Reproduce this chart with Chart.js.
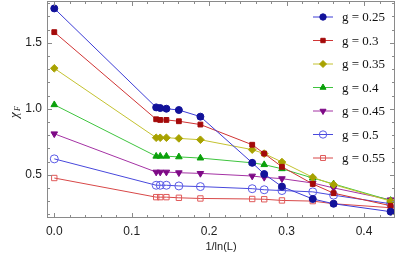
<!DOCTYPE html>
<html>
<head>
<meta charset="utf-8">
<script src="https://cdn.jsdelivr.net/npm/chart.js@4/dist/chart.umd.min.js"></script>
<style>
  body { margin: 0; background: #fff; }
  #wrap { width: 399px; height: 259px; }
</style>
</head>
<body>
<div id="wrap"><canvas id="chiChart"></canvas></div>
<script>
// x = 1/ln(L)
const xVals = [0, 0.1316, 0.1368, 0.1448, 0.1609, 0.1887, 0.2556, 0.2711, 0.2940, 0.3338, 0.3607, 0.4343];

const g025 = [1.76, 1.01, 1.005, 1.0, 0.99, 0.94, 0.59, 0.505, 0.41, 0.316, 0.28, 0.22];
const g030 = [1.58, 0.92, 0.915, 0.915, 0.905, 0.88, 0.727, 0.66, 0.56, 0.43, 0.36, 0.265];
const g035 = [1.306, 0.78, 0.78, 0.78, 0.775, 0.765, 0.69, 0.66, 0.596, 0.48, 0.425, 0.30];
const g040 = [1.03, 0.64, 0.64, 0.64, 0.635, 0.626, 0.59, 0.576, 0.545, 0.475, 0.43, 0.305];
const g045 = [0.81, 0.52, 0.52, 0.52, 0.515, 0.51, 0.49, 0.48, 0.47, 0.437, 0.40, 0.31];
const g050 = [0.62, 0.42, 0.42, 0.42, 0.415, 0.41, 0.394, 0.386, 0.38, 0.37, 0.345, 0.28];
const g055 = [0.475, 0.33, 0.33, 0.33, 0.325, 0.32, 0.316, 0.314, 0.305, 0.30, 0.28, 0.25];

const seriesLabels = ["g = 0.25", "g = 0.3", "g = 0.35", "g = 0.4", "g = 0.45", "g = 0.5", "g = 0.55"];
const xTicks = [0, 0.1, 0.2, 0.3, 0.4];
const yTicks = [0.5, 1.0, 1.5];

const toPoints = (ys) => ys.map((y, i) => ({ x: xVals[i], y: y }));

const makeSet = (label, ys, line, mark, style, opts) => Object.assign({
  label: label,
  data: toPoints(ys),
  borderColor: line,
  borderWidth: 1,
  pointStyle: style,
  pointBackgroundColor: mark,
  pointBorderColor: mark,
  pointBorderWidth: 1,
  pointRadius: 3.5,
  tension: 0,
  fill: false,
}, opts || {});

const datasets = [
  makeSet(seriesLabels[0], g025, "#3c3cd6", "#12129a", "circle", { pointRadius: 3.5 }),
  makeSet(seriesLabels[1], g030, "#d03434", "#a40a0a", "rect", { pointRadius: 3.4 }),
  makeSet(seriesLabels[2], g035, "#c4c230", "#a8a200", "rectRot", { pointRadius: 3.8 }),
  makeSet(seriesLabels[3], g040, "#3ec43e", "#0aa00a", "triangle", { pointRadius: 3.8 }),
  makeSet(seriesLabels[4], g045, "#a432a4", "#7e0a86", "triangle", { pointRadius: 3.8, pointRotation: 180 }),
  makeSet(seriesLabels[5], g050, "#4848dc", "#5a5ae6", "circle", { pointRadius: 4, pointBackgroundColor: "rgba(255,255,255,0)" }),
  makeSet(seriesLabels[6], g055, "#d84848", "#e05a5a", "rect", { pointRadius: 3.8, pointBackgroundColor: "rgba(255,255,255,0)" }),
];

// frame, inward ticks, legend and y title drawn with the scales
const framePlugin = {
  id: "frame",
  afterDraw(chart) {
    const ctx = chart.ctx;
    const a = chart.chartArea;
    const xs = chart.scales.x;
    const ys = chart.scales.y;
    ctx.save();
    ctx.strokeStyle = "#8a8a8a";
    ctx.lineWidth = 1;
    ctx.strokeRect(a.left + 0.5, a.top + 0.5, a.right - a.left - 1, a.bottom - a.top - 1);

    ctx.beginPath();
    for (let i = 0; i <= 22; i++) {
      const v = i * 0.02;
      const px = Math.round(xs.getPixelForValue(v)) + 0.5;
      if (px < a.left || px > a.right) continue;
      const len = i % 5 === 0 ? 5 : 3;
      ctx.moveTo(px, a.bottom); ctx.lineTo(px, a.bottom - len);
      ctx.moveTo(px, a.top); ctx.lineTo(px, a.top + len);
    }
    for (let i = 2; i <= 18; i++) {
      const v = i * 0.1;
      const py = Math.round(ys.getPixelForValue(v)) + 0.5;
      if (py < a.top || py > a.bottom) continue;
      const len = i % 5 === 0 ? 5 : 3;
      ctx.moveTo(a.left, py); ctx.lineTo(a.left + len, py);
      ctx.moveTo(a.right, py); ctx.lineTo(a.right - len, py);
    }
    ctx.stroke();

    // legend
    const lx = 313, tx = 342;
    chart.data.datasets.forEach((ds, i) => {
      const ly = 17 + i * 23.5;
      ctx.strokeStyle = ds.borderColor;
      ctx.lineWidth = 1;
      ctx.beginPath();
      ctx.moveTo(lx, ly); ctx.lineTo(lx + 20, ly);
      ctx.stroke();
      ctx.fillStyle = ds.pointBackgroundColor;
      ctx.strokeStyle = ds.pointBorderColor;
      Chart.helpers.drawPoint(ctx, {
        pointStyle: ds.pointStyle,
        rotation: ds.pointRotation || 0,
        radius: ds.pointRadius - 0.3,
        borderWidth: 1,
      }, lx + 10, ly);
      ctx.fillStyle = "#111";
      ctx.font = "13px 'Liberation Serif', 'DejaVu Serif', serif";
      ctx.textBaseline = "middle";
      ctx.textAlign = "left";
      ctx.fillText(ds.label, tx, ly + 1);
    });

    // y title: chi_F
    ctx.translate(14, 111);
    ctx.rotate(-Math.PI / 2);
    ctx.fillStyle = "#222";
    ctx.textBaseline = "alphabetic";
    ctx.textAlign = "left";
    ctx.font = "italic 13px 'Liberation Serif', serif";
    ctx.fillText("\u03C7", -7, 4);
    ctx.font = "italic 8px 'Liberation Serif', serif";
    ctx.fillText("F", 0, 6);
    ctx.restore();
  },
};

new Chart(document.getElementById("chiChart"), {
  type: "line",
  data: { datasets: datasets },
  options: {
    responsive: true,
    maintainAspectRatio: false,
    animation: false,
    layout: { autoPadding: false, padding: { top: 1, right: 4, left: 0, bottom: 0 } },
    plugins: { legend: { display: false }, tooltip: { enabled: false } },
    scales: {
      x: {
        type: "linear",
        min: -0.0094,
        max: 0.44,
        afterBuildTicks: (s) => { s.ticks = xTicks.map((v) => ({ value: v })); },
        afterFit: (s) => { s.height = 41; s.paddingLeft = 0; s.paddingRight = 0; },
        grid: { display: false, drawTicks: false },
        border: { display: false },
        ticks: {
          padding: 6,
          color: "#222",
          font: { family: "'Liberation Sans', Arial, sans-serif", size: 12 },
          callback: (v) => v.toFixed(1),
          maxRotation: 0,
        },
        title: {
          display: true,
          text: "1/ln(L)",
          color: "#222",
          padding: { top: 0, bottom: 5 },
          font: { family: "'Liberation Sans', Arial, sans-serif", size: 11 },
        },
      },
      y: {
        type: "linear",
        min: 0.172,
        max: 1.816,
        afterBuildTicks: (s) => { s.ticks = yTicks.map((v) => ({ value: v })); },
        afterFit: (s) => { s.width = 47; s.paddingTop = 0; s.paddingBottom = 0; },
        grid: { display: false, drawTicks: false },
        border: { display: false },
        ticks: {
          padding: 5,
          color: "#222",
          font: { family: "'Liberation Sans', Arial, sans-serif", size: 12 },
          callback: (v) => v.toFixed(1),
        },
      },
    },
  },
  plugins: [framePlugin],
});
</script>
</body>
</html>
